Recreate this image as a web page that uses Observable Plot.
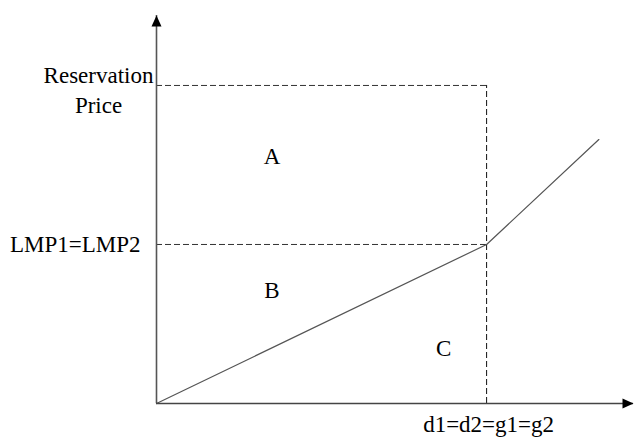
<!DOCTYPE html>
<html>
<head>
<meta charset="utf-8">
<script src="https://cdn.jsdelivr.net/npm/d3@7"></script>
<script src="https://cdn.jsdelivr.net/npm/@observablehq/plot@0.6"></script>
<style>
  html, body { margin: 0; padding: 0; background: #fff; }
  #chart { width: 634px; height: 437px; }
  #chart svg text { font-family: "Liberation Serif", "Times New Roman", Times, serif !important; }
</style>
</head>
<body>
<div id="chart"></div>
<script>
// Supply (offer) curve: quantity vs price
const supplyQ = [0, 100, 134];
const supplyP = [0, 50, 83];
// Key levels
const reservationPrice = 100;
const lmpPrice = 50;
const clearedQ = 100;
// Axis extents
const qMax = 144.5;
const pMax = 122;
// Area labels
const areaLabels = ["A", "B", "C"];
const areaQ = [35, 35, 87];
const areaP = [75.2, 33.3, 14.8];
// Axis labels
const reservationLabel = "Reservation\nPrice";
const lmpLabel = "LMP1=LMP2";
const qLabel = "d1=d2=g1=g2";

const supply = supplyQ.map((q, i) => ({q, p: supplyP[i]}));
const areas = areaLabels.map((t, i) => ({t, q: areaQ[i], p: areaP[i]}));

const arrowHead = {
  draw(context) {
    context.moveTo(0, 0);
    context.lineTo(5, 11);
    context.lineTo(-5, 11);
    context.closePath();
  }
};

const font = "'Liberation Serif', 'Times New Roman', serif";
const fs = 23;

const chart = Plot.plot({
  width: 634,
  height: 437,
  x: {domain: [0, qMax], range: [156, 633], axis: null},
  y: {domain: [0, pMax], range: [403, 15], axis: null},
  style: {background: "#fff", fontFamily: font, fontSize: fs + "px", color: "#000"},
  marks: [
    // dashed guides
    Plot.ruleY([reservationPrice], {x1: 0, x2: clearedQ, stroke: "#333", strokeWidth: 1, strokeDasharray: "6,3"}),
    Plot.ruleY([lmpPrice], {x1: 0, x2: clearedQ, stroke: "#333", strokeWidth: 1, strokeDasharray: "6,3"}),
    Plot.ruleX([clearedQ], {y1: 0, y2: reservationPrice, stroke: "#111", strokeWidth: 1, strokeDasharray: "6,3"}),
    // supply curve
    Plot.line(supply, {x: "q", y: "p", stroke: "#555", strokeWidth: 1.2}),
    // axes
    Plot.ruleX([0], {y1: 0, y2: pMax, stroke: "#555", strokeWidth: 1.6}),
    Plot.ruleY([0], {x1: 0, x2: qMax, stroke: "#444", strokeWidth: 1.6}),
    Plot.dot([{q: 0, p: pMax}], {x: "q", y: "p", symbol: arrowHead, fill: "#000", stroke: "none"}),
    Plot.dot([{q: qMax, p: 0}], {x: "q", y: "p", symbol: arrowHead, rotate: 90, fill: "#000", stroke: "none"}),
    // area labels
    Plot.text(areas, {x: "q", y: "p", text: "t", lineAnchor: "bottom", fontSize: fs, fontFamily: font, fill: "#000"}),
    // axis labels
    Plot.text([reservationLabel], {x: 0, y: 91.5, text: d => d, textAnchor: "middle", dx: -58, lineAnchor: "bottom", lineHeight: 1.27, fontSize: fs, fontFamily: font, fill: "#000"}),
    Plot.text([lmpLabel], {x: 0, y: lmpPrice, text: d => d, textAnchor: "end", dx: -16, lineAnchor: "middle", fontSize: fs, fontFamily: font, fill: "#000"}),
    Plot.text([qLabel], {x: clearedQ, y: 0, text: d => d, textAnchor: "middle", dx: 2, dy: 12, lineAnchor: "top", fontSize: fs, fontFamily: font, fill: "#000"})
  ]
});
document.getElementById("chart").appendChild(chart);
</script>
</body>
</html>
